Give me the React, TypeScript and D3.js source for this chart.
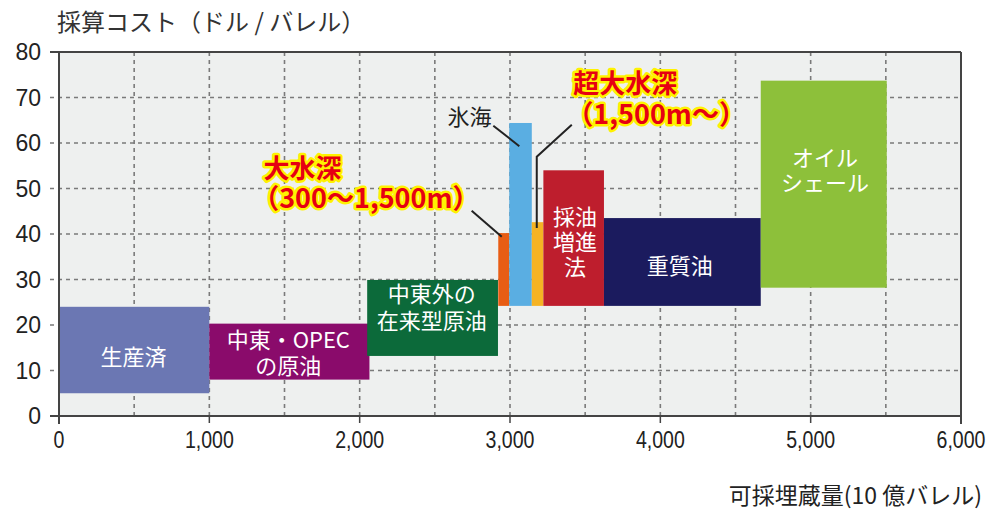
import React from "react";
import * as d3 from "d3";

const W = 995;
const H = 512;

// Bars: x extent (10億バレル), y extent (ドル/バレル)
const names = ["生産済", "中東・OPEC", "中東外", "大水深", "氷海", "超大水深", "採油増進法", "重質油", "オイルシェール"];
const xStart = [0, 1000, 2050, 2922, 2995, 3145, 3222, 3625, 4668];
const xEnd = [1000, 2065, 2920, 2995, 3145, 3222, 3625, 4668, 5506];
const yLow = [5, 8, 13.2, 24.2, 24.2, 24.2, 24.2, 24.2, 28.2];
const yHigh = [24, 20.3, 29.9, 40.2, 64.4, 42.6, 54, 43.5, 73.7];
const colors = ["#6b77b3", "#8a0b6b", "#0c6a3a", "#e85d14", "#5aaee2", "#f5b324", "#be1e2d", "#1b1b5e", "#8dc03a"];

// White labels inside bars: lines, center x, center y (data units)
const barLabels: { lines: string[]; x: number; y: number; gap: number }[] = [
  { lines: ["生産済"], x: 495, y: 13.5, gap: 0 },
  { lines: ["中東・OPEC", "の原油"], x: 1525, y: 14.3, gap: 5.8 },
  { lines: ["中東外の", "在来型原油"], x: 2480, y: 24.3, gap: 6.1 },
  { lines: ["採油", "増進", "法"], x: 3432, y: 38.6, gap: 5.5 },
  { lines: ["重質油"], x: 4130, y: 33.5, gap: 0 },
  { lines: ["オイル", "シェール"], x: 5095, y: 54.4, gap: 5.6 },
];

const xTicks = [0, 1000, 2000, 3000, 4000, 5000, 6000];
const yTicks = [0, 10, 20, 30, 40, 50, 60, 70, 80];
const xGrid = [500, 1000, 1500, 2000, 2500, 3000, 3500, 4000, 4500, 5000, 5500];
const yGrid = [10, 20, 30, 40, 50, 60, 70];

export default function App() {
  const x = d3.scaleLinear().domain([0, 6000]).range([59, 961]);
  const y = d3.scaleLinear().domain([0, 80]).range([416, 52]);
  const fmt = d3.format(",");
  const jp = "'Noto Sans CJK JP', 'Noto Sans', sans-serif";
  const num = "'Liberation Sans', Arial, sans-serif";

  const line = d3.line<[number, number]>().x((d) => x(d[0])).y((d) => y(d[1]));
  const leaders: [number, number][][] = [
    [[2745, 45.1], [2945, 39.4]],
    [[2889, 63.8], [3062, 59.3]],
    [[3411, 64.0], [3178, 57.0], [3178, 41.3]],
  ];

  const glowText = (t: string, px: number, py: number, size: number) => (
    <text key={t} x={px} y={py} fontFamily={jp} fontSize={size} fontWeight={700} fill="#e60012" stroke="#fff200" strokeWidth={5} strokeLinejoin="round" paintOrder="stroke" dominantBaseline="central">{t}</text>
  );

  return (
    <svg width={W} height={H} style={{ position: "absolute", left: 0, top: 0, background: "#fff" }}>
      <rect x={x(0)} y={y(80)} width={x(6000) - x(0)} height={y(0) - y(80)} fill="#eef0ef" />
      {/* grid */}
      {xGrid.map((v) => (
        <line key={"gx" + v} x1={x(v)} x2={x(v)} y1={y(80)} y2={y(0)} stroke="#7a7a7a" strokeWidth={1.6} strokeDasharray="4,4" />
      ))}
      {yGrid.map((v) => (
        <line key={"gy" + v} x1={50} x2={x(6000)} y1={y(v)} y2={y(v)} stroke="#7a7a7a" strokeWidth={1.6} strokeDasharray="4,4" />
      ))}
      {/* bars */}
      {names.map((n, i) => (
        <rect key={n} x={x(xStart[i])} y={y(yHigh[i])} width={x(xEnd[i]) - x(xStart[i])} height={y(yLow[i]) - y(yHigh[i])} fill={colors[i]} />
      ))}
      {/* frame */}
      <line x1={50} x2={x(6000)} y1={y(80)} y2={y(80)} stroke="#444" strokeWidth={2} />
      <line x1={50} x2={x(6000)} y1={y(0)} y2={y(0)} stroke="#444" strokeWidth={2} />
      <line x1={x(0)} x2={x(0)} y1={y(80)} y2={y(0) + 8} stroke="#444" strokeWidth={2} />
      <line x1={x(6000)} x2={x(6000)} y1={y(80)} y2={y(0) + 8} stroke="#444" strokeWidth={2} />
      {xTicks.slice(1, -1).map((v) => (
        <line key={"tx" + v} x1={x(v)} x2={x(v)} y1={y(0)} y2={y(0) + 7} stroke="#444" strokeWidth={1.5} />
      ))}
      {/* tick labels */}
      {yTicks.map((v) => (
        <text key={"ly" + v} x={41} y={y(v)} textAnchor="end" dominantBaseline="central" fontFamily={num} fontSize={23} fill="#222">{v}</text>
      ))}
      {xTicks.map((v) => (
        <text key={"lx" + v} transform={`translate(${x(v)},440) scale(0.85,1)`} textAnchor="middle" dominantBaseline="central" fontFamily={num} fontSize={23} fill="#222">{fmt(v)}</text>
      ))}
      {/* bar labels */}
      {barLabels.map((b, i) =>
        b.lines.map((t, j) => (
          <text key={i + "-" + j} x={x(b.x)} y={y(b.y - (j - (b.lines.length - 1) / 2) * b.gap)} textAnchor="middle" dominantBaseline="central" fontFamily={jp} fontSize={22} fill="#fff">{t}</text>
        ))
      )}
      {/* leaders */}
      {leaders.map((l, i) => (
        <path key={"ld" + i} d={line(l) || ""} fill="none" stroke="#222" strokeWidth={2} />
      ))}
      <text x={x(2730)} y={y(66.2)} textAnchor="middle" dominantBaseline="central" fontFamily={jp} fontSize={22} fill="#222">氷海</text>
      {glowText("大水深", x(1360), y(54.8), 26)}
      {glowText("（300〜1,500m）", x(1285), y(48.2), 27)}
      {glowText("超大水深", x(3420), y(73.6), 26)}
      {glowText("（1,500m〜）", x(3375), y(66.6), 27)}
      {/* axis titles */}
      <text x={57} y={20} dominantBaseline="central" fontFamily={jp} fontSize={24} fill="#333">採算コスト（ドル / バレル）</text>
      <text x={982} y={494} textAnchor="end" dominantBaseline="central" fontFamily={jp} fontSize={23} fill="#222">可採埋蔵量(10 億バレル)</text>
    </svg>
  );
}
